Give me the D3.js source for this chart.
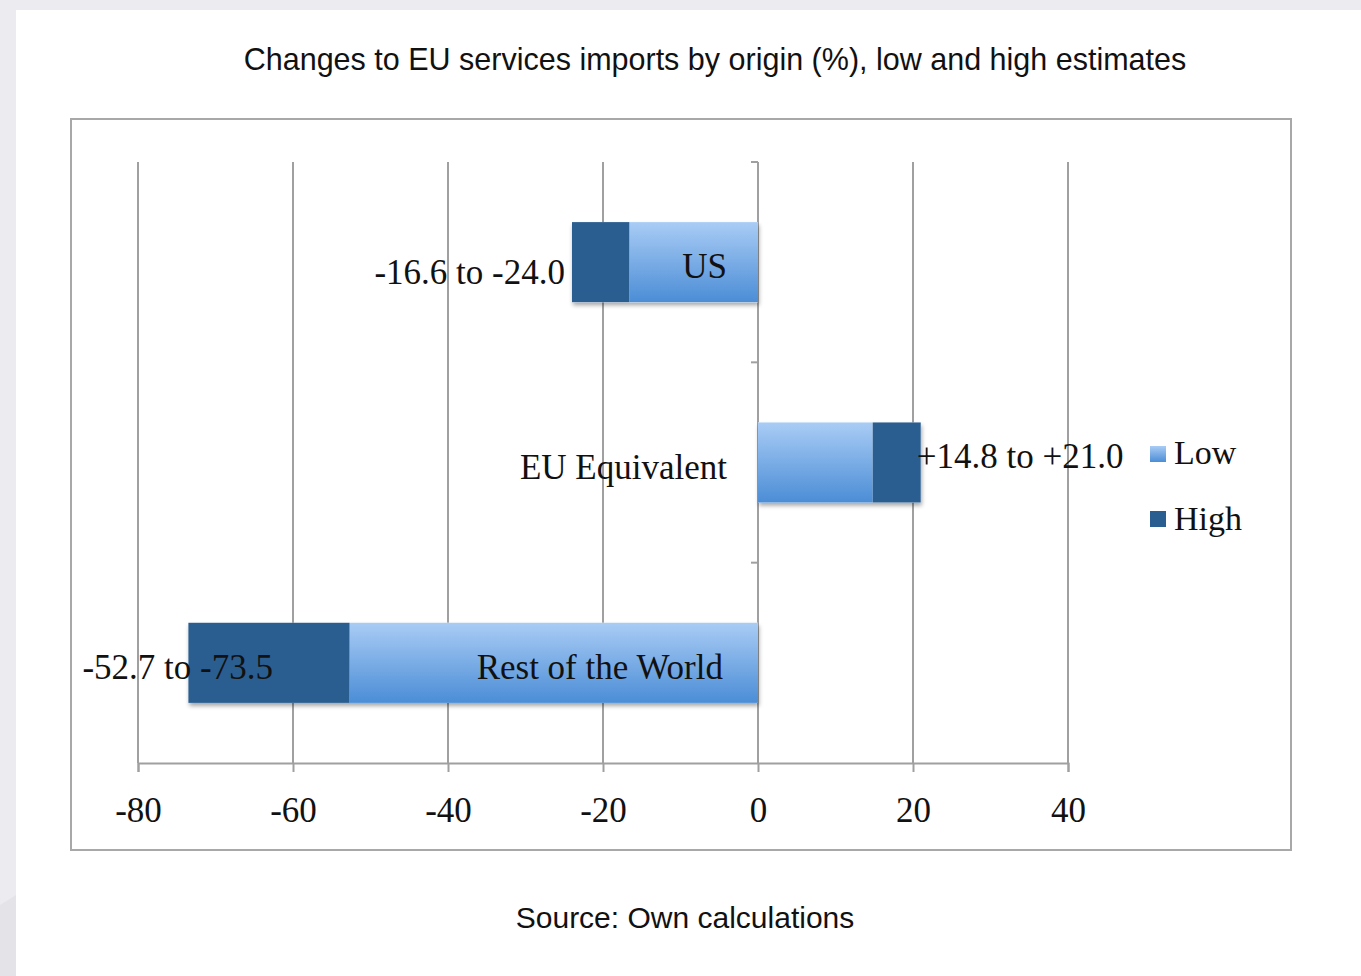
<!DOCTYPE html>
<html><head><meta charset="utf-8">
<script src="https://cdn.jsdelivr.net/npm/d3@7"></script>
<style>html,body{margin:0;padding:0;background:#ececf0;}svg{display:block;}</style>
</head><body>
<svg id="chart" width="1361" height="976"></svg>
<script>
const categories = ["US", "EU Equivalent", "Rest of the World"];
const lowValues = [-16.6, 14.8, -52.7];
const highValues = [-24.0, 21.0, -73.5];
const rangeLabels = ["-16.6 to -24.0", "+14.8 to +21.0", "-52.7 to -73.5"];
const xTickValues = [-80, -60, -40, -20, 0, 20, 40];
const seriesNames = ["Low", "High"];

const svg = d3.select("#chart");
const W = 1361, H = 976;

// page background / card
svg.append("rect").attr("width", W).attr("height", H).attr("fill", "#ececf0");
svg.append("path").attr("d", `M0,${H} L0,905 L16,895 L16,${H} Z`).attr("fill", "#e3e3e8");
svg.append("rect").attr("x", 16).attr("y", 10).attr("width", W - 16).attr("height", H - 10).attr("fill", "#ffffff");

const defs = svg.append("defs");
const grad = defs.append("linearGradient").attr("id", "lowGrad").attr("x1", 0).attr("y1", 0).attr("x2", 0).attr("y2", 1);
grad.append("stop").attr("offset", "0%").attr("stop-color", "#a9ccf5");
grad.append("stop").attr("offset", "100%").attr("stop-color", "#4b8dd6");
const f = defs.append("filter").attr("id", "shadow").attr("x", "-10%").attr("y", "-20%").attr("width", "120%").attr("height", "150%");
f.append("feDropShadow").attr("dx", 1).attr("dy", 3).attr("stdDeviation", 2).attr("flood-color", "#000").attr("flood-opacity", 0.35);

// title
svg.append("text").attr("x", 715).attr("y", 70).attr("text-anchor", "middle")
  .attr("font-family", "Liberation Sans, Arial, sans-serif").attr("font-size", 30.5).attr("fill", "#111")
  .text("Changes to EU services imports by origin (%), low and high estimates");

// chart border
svg.append("rect").attr("x", 71).attr("y", 119).attr("width", 1220).attr("height", 731)
  .attr("fill", "#fff").attr("stroke", "#a8a8a8").attr("stroke-width", 2);

const x = d3.scaleLinear().domain([-80, 40]).range([138, 1068]);
const y = d3.scaleBand().domain(categories).range([162, 763]).paddingInner(0.6).paddingOuter(0.3);
const yb = d3.scaleBand().domain(categories).range([162, 763]);

const serif = "Liberation Serif, 'Times New Roman', serif";
const serifSize = 35;
const gridColor = "#a0a0a0";

// gridlines
svg.append("g").selectAll("line").data(xTickValues).join("line")
  .attr("x1", d => x(d)).attr("x2", d => x(d)).attr("y1", 162).attr("y2", 763)
  .attr("stroke", gridColor).attr("stroke-width", 2);

// x axis
const xAxis = svg.append("g").attr("transform", "translate(0,763)")
  .call(d3.axisBottom(x).tickValues(xTickValues).tickSize(9).tickPadding(25).tickFormat(d3.format("d")));
xAxis.select(".domain").attr("stroke", gridColor).attr("stroke-width", 2);
xAxis.selectAll(".tick line").attr("stroke", gridColor).attr("stroke-width", 2);
xAxis.selectAll(".tick text").attr("font-family", serif).attr("font-size", serifSize).attr("fill", "#111")
  .text(d => d < 0 ? "-" + Math.abs(d) : d);

// y axis at zero with band-boundary ticks
svg.append("line").attr("x1", x(0)).attr("x2", x(0)).attr("y1", 162).attr("y2", 763)
  .attr("stroke", gridColor).attr("stroke-width", 2);
svg.append("g").selectAll("line").data(categories).join("line")
  .attr("x1", x(0) - 7).attr("x2", x(0)).attr("y1", d => yb(d)).attr("y2", d => yb(d))
  .attr("stroke", gridColor).attr("stroke-width", 2);

// bars
const bars = svg.append("g");
categories.forEach((c, i) => {
  const l = lowValues[i], h = highValues[i];
  bars.append("rect").attr("x", x(Math.min(0, h))).attr("y", y(c))
    .attr("width", Math.abs(x(h) - x(0))).attr("height", y.bandwidth())
    .attr("fill", "#fff").attr("filter", "url(#shadow)");
  bars.append("rect").attr("x", x(Math.min(0, l))).attr("y", y(c))
    .attr("width", Math.abs(x(l) - x(0))).attr("height", y.bandwidth())
    .attr("fill", "url(#lowGrad)");
  bars.append("rect").attr("x", x(Math.min(l, h))).attr("y", y(c))
    .attr("width", Math.abs(x(h) - x(l))).attr("height", y.bandwidth())
    .attr("fill", "#2b5e90");
});

// category labels
svg.append("g").selectAll("text").data(categories).join("text")
  .attr("x", (d, i) => x(0) - (i === 2 ? 35 : 31)).attr("y", d => y(d) + y.bandwidth() / 2 + 8)
  .attr("text-anchor", "end").attr("dominant-baseline", "middle")
  .attr("font-family", serif).attr("font-size", serifSize).attr("fill", "#111").text(d => d);

// range labels
svg.append("g").selectAll("text").data(categories).join("text")
  .attr("x", (d, i) => i === 0 ? x(highValues[i]) - 7 : (i === 1 ? x(highValues[i]) - 4 : x(highValues[i]) - 106))
  .attr("y", (d, i) => y(d) + y.bandwidth() / 2 + (i === 0 ? 14 : (i === 1 ? -3 : 8)))
  .attr("text-anchor", (d, i) => i === 0 ? "end" : "start").attr("dominant-baseline", "middle")
  .attr("font-family", serif).attr("font-size", serifSize).attr("fill", "#111").text((d, i) => rangeLabels[i]);

// legend
const legend = svg.append("g").attr("transform", "translate(1150,446)");
seriesNames.forEach((s, i) => {
  legend.append("rect").attr("x", 0).attr("y", i * 65).attr("width", 16).attr("height", 16)
    .attr("fill", i === 0 ? "url(#lowGrad)" : "#2b5e90");
  legend.append("text").attr("x", 24).attr("y", i * 66 + 10).attr("dominant-baseline", "middle")
    .attr("font-family", serif).attr("font-size", 34).attr("fill", "#111").text(s);
});

// source
svg.append("text").attr("x", 685).attr("y", 928).attr("text-anchor", "middle")
  .attr("font-family", "Liberation Sans, Arial, sans-serif").attr("font-size", 30).attr("fill", "#111")
  .text("Source: Own calculations");
</script>
</body></html>
